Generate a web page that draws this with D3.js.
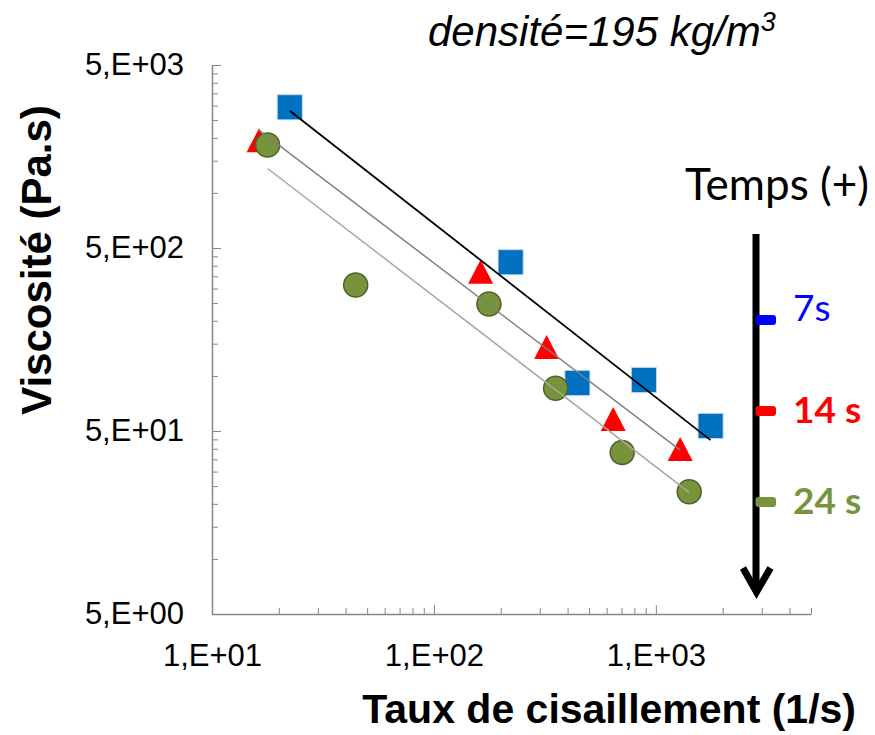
<!DOCTYPE html>
<html>
<head>
<meta charset="utf-8">
<script src="https://cdn.jsdelivr.net/npm/d3@7"></script>
<style>
  body { margin: 0; background: #fff; }
  svg { display: block; }
</style>
</head>
<body>
<svg id="chart1" width="875" height="735"></svg>
<script>
// data (shear rate 1/s, viscosity Pa.s)
var blueX = [22.4, 221.6, 443, 883, 1764];
var blueY = [2937, 417.8, 91.5, 95.0, 53.3];
var redX = [16.3, 162.3, 321.9, 642.3, 1287];
var redY = [1938, 371, 143.9, 58.2, 39.9];
var greenX = [17.8, 44.4, 176.9, 353.4, 705, 1413];
var greenY = [1828, 314, 247, 85.6, 38.2, 23.3];

var xTicks = [10, 100, 1000];
var xTickLabels = ["1,E+01", "1,E+02", "1,E+03"];
var yTicks = [5, 50, 500, 5000];
var yTickLabels = ["5,E+00", "5,E+01", "5,E+02", "5,E+03"];

var legendLabels = ["7s", "14 s", "24 s"];
var legendColors = ["#0000ff", "#ff0000", "#77933c"];

var svg = d3.select("#chart1");

var x = d3.scaleLog()
    .domain([10, 5000])
    .range([212, 811]);
var y = d3.scaleLog()
    .domain([5, 5000])
    .range([614, 65]);

// minor ticks (Excel style: k * major)
var xMinor = [], yMinor = [];
[10, 100, 1000].forEach(function(b) {
  for (var k = 2; k <= 9; k++) { if (b * k <= 5000) xMinor.push(b * k); }
});
[5, 50, 500].forEach(function(b) {
  for (var k = 2; k <= 9; k++) yMinor.push(b * k);
});

var axisColor = "#868686";
var tickFont = "'Liberation Sans', Arial, sans-serif";

// X axis
var gx = svg.append("g")
    .attr("transform", "translate(0,614)")
    .call(d3.axisBottom(x).tickValues(xMinor).tickSize(-6).tickSizeOuter(0).tickFormat(""));
gx.select(".domain").remove();
gx.selectAll("line").attr("stroke", axisColor);

var gx2 = svg.append("g")
    .attr("transform", "translate(0,614)")
    .call(d3.axisBottom(x).tickValues(xTicks).tickSize(-9).tickSizeOuter(0).tickPadding(30)
      .tickFormat(function(d, i) { return xTickLabels[i]; }));
gx2.select(".domain").attr("stroke", axisColor).attr("stroke-width", 1.5);
gx2.selectAll("line").attr("stroke", axisColor);
gx2.selectAll("text")
    .style("font-family", tickFont)
    .style("font-size", "31px")
    .attr("fill", "#000");

// Y axis
var gy = svg.append("g")
    .attr("transform", "translate(212,0)")
    .call(d3.axisLeft(y).tickValues(yMinor).tickSize(-6).tickSizeOuter(0).tickFormat(""));
gy.select(".domain").remove();
gy.selectAll("line").attr("stroke", axisColor);

var gy2 = svg.append("g")
    .attr("transform", "translate(212,0)")
    .call(d3.axisLeft(y).tickValues(yTicks).tickSize(-9).tickSizeOuter(0).tickPadding(28)
      .tickFormat(function(d, i) { return yTickLabels[i]; }));
gy2.select(".domain").attr("stroke", axisColor).attr("stroke-width", 1.5);
gy2.selectAll("line").attr("stroke", axisColor);
gy2.selectAll("text")
    .style("font-family", tickFont)
    .style("font-size", "31px")
    .attr("fill", "#000");

// power-law trend line (least squares in log-log space)
function powerFit(xs, ys) {
  var lx = xs.map(Math.log10), ly = ys.map(Math.log10);
  var mx = d3.mean(lx), my = d3.mean(ly);
  var sxy = d3.sum(lx, function(d, i) { return (d - mx) * (ly[i] - my); });
  var sxx = d3.sum(lx, function(d) { return (d - mx) * (d - mx); });
  var b = sxy / sxx, a = my - b * mx;
  var x0 = d3.min(xs), x1 = d3.max(xs);
  return [[x0, Math.pow(10, a + b * Math.log10(x0))], [x1, Math.pow(10, a + b * Math.log10(x1))]];
}

var series = [
  {xs: blueX, ys: blueY, shape: "square", fill: "#0070c0", line: "#000000"},
  {xs: redX, ys: redY, shape: "triangle", fill: "#ff0000", line: "#808080"},
  {xs: greenX, ys: greenY, shape: "circle", fill: "#77933c", line: "#a6a6a6"}
];

// markers
series.forEach(function(s) {
  var pts = s.xs.map(function(v, i) { return [v, s.ys[i]]; });
  var g = svg.append("g");
  if (s.shape == "square") {
    g.selectAll("rect").data(pts).enter().append("rect")
      .attr("x", function(d) { return x(d[0]) - 12.5; })
      .attr("y", function(d) { return y(d[1]) - 12.5; })
      .attr("width", 25).attr("height", 25)
      .attr("fill", s.fill)
      .attr("stroke", "#bdd7ee").attr("stroke-width", 0.8);
  } else if (s.shape == "triangle") {
    g.selectAll("path").data(pts).enter().append("path")
      .attr("d", function(d) {
        var cx = x(d[0]), cy = y(d[1]);
        return "M" + cx + "," + (cy - 12) + "L" + (cx + 12.5) + "," + (cy + 12) + "L" + (cx - 12.5) + "," + (cy + 12) + "Z";
      })
      .attr("fill", s.fill);
  } else {
    g.selectAll("circle").data(pts).enter().append("circle")
      .attr("cx", function(d) { return x(d[0]); })
      .attr("cy", function(d) { return y(d[1]); })
      .attr("r", 12)
      .attr("fill", s.fill)
      .attr("stroke", "#4f6228").attr("stroke-width", 1.5);
  }
});

// trend lines on top
series.forEach(function(s) {
  var f = powerFit(s.xs, s.ys);
  svg.append("line")
    .attr("x1", x(f[0][0])).attr("y1", y(f[0][1]))
    .attr("x2", x(f[1][0])).attr("y2", y(f[1][1]))
    .attr("stroke", s.line)
    .attr("stroke-width", s.line == "#000000" ? 1.8 : 1.5);
});

// axis titles
svg.append("text")
    .attr("transform", "translate(51,260) rotate(-90)")
    .attr("text-anchor", "middle")
    .style("font-family", tickFont)
    .style("font-weight", "bold")
    .style("font-size", "42px")
    .text("Viscosité (Pa.s)");

svg.append("text")
    .attr("x", 856).attr("y", 723)
    .attr("text-anchor", "end")
    .style("font-family", tickFont)
    .style("font-weight", "bold")
    .style("font-size", "41px")
    .text("Taux de cisaillement (1/s)");

// density note
var note = svg.append("text")
    .attr("x", 428).attr("y", 46)
    .style("font-family", tickFont)
    .style("font-style", "italic")
    .style("font-size", "42px");
note.append("tspan").text("densité=195 kg/m");
note.append("tspan").attr("dy", -15).style("font-size", "27px").text("3");

// time legend with arrow
var legFont = "Lato, 'Open Sans', sans-serif";
svg.append("text")
    .attr("x", 685).attr("y", 200)
    .style("font-family", legFont)
    .style("font-size", "44px")
    .text("Temps (+)");

svg.append("line")
    .attr("x1", 756).attr("y1", 234).attr("x2", 756).attr("y2", 591)
    .attr("stroke", "#000").attr("stroke-width", 7);
svg.append("polyline")
    .attr("points", "743,568 756.5,592 770.5,568")
    .attr("fill", "none")
    .attr("stroke", "#000").attr("stroke-width", 7)
    .attr("stroke-linejoin", "miter");

legendLabels.forEach(function(l, i) {
  var cy = 320 + i * 91;
  svg.append("rect")
    .attr("x", 755.5).attr("y", cy - 5)
    .attr("width", 20.5).attr("height", 10)
    .attr("rx", 3)
    .attr("fill", legendColors[i]);
  svg.append("text")
    .attr("x", 793).attr("y", i == 0 ? cy + 1 : cy + 12)
    .attr("fill", legendColors[i])
    .style("font-family", legFont)
    .style("font-weight", i == 0 ? "normal" : "bold")
    .style("font-size", "37px")
    .text(l);
});
</script>
</body>
</html>
